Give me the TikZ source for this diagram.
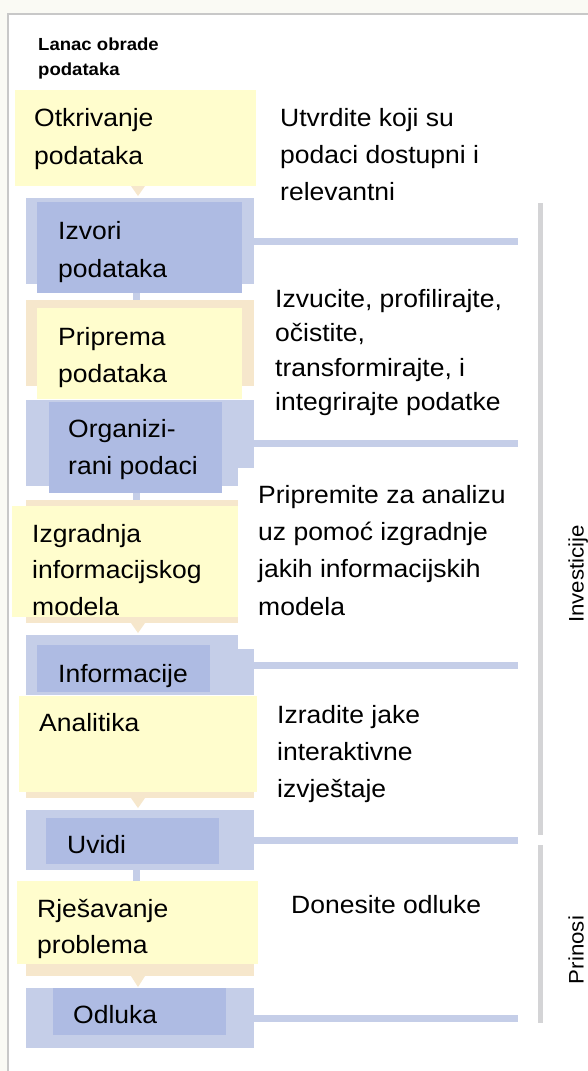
\documentclass[tikz,border=0pt]{standalone}
\usepackage{fontspec}
\setmainfont{Liberation Sans}[FakeStretch=1.06]
\definecolor{yel}{RGB}{255,253,205}
\definecolor{tanc}{RGB}{246,231,204}
\definecolor{bout}{RGB}{197,206,232}
\definecolor{binn}{RGB}{174,187,227}
\definecolor{vgray}{RGB}{212,212,214}
\definecolor{framec}{RGB}{200,200,200}
\definecolor{cream}{RGB}{250,250,244}
\begin{document}
\begin{tikzpicture}[x=1pt,y=-1pt,
  bx/.style={anchor=north west, inner sep=0pt, outer sep=0pt, draw=none},
  ybox/.style={bx, fill=yel},
  tbox/.style={bx, fill=tanc},
  obox/.style={bx, fill=bout},
  ibox/.style={bx, fill=binn},
  wbox/.style={bx, fill=white},
  hline/.style={draw=bout, line width=7pt},
  vconn/.style={draw=bout, line width=7pt},
  gline/.style={draw=vgray, line width=5pt},
  tri/.style={fill=tanc},
  lbl/.style={anchor=base west, inner sep=0pt, align=left, font=\fontsize{25}{37}\selectfont},
  ttl/.style={anchor=base west, inner sep=0pt, align=left, font=\bfseries\fontsize{17.5}{25.5}\selectfont},
  side/.style={anchor=base, inner sep=0pt, rotate=90, font=\fontsize{21}{25}\selectfont}
]
\useasboundingbox (0,0) rectangle (588,1071);
\fill[cream] (0,0) rectangle (588,1071);
\fill[white] (8,14) rectangle (588,1071);
\draw[framec, line width=1.5pt] (8,1071) -- (8,14) -- (588,14);

% boxes
\node[ybox, minimum width=241pt, minimum height=96pt] (y1) at (15,90) {};
\node[obox, minimum width=228pt, minimum height=86pt] (b2o) at (26,198) {};
\node[ibox, minimum width=205pt, minimum height=91pt] (b2i) at (37,202) {};
\node[tbox, minimum width=228pt, minimum height=86pt] (t3o) at (26,300) {};
\node[ybox, minimum width=205pt, minimum height=91pt] (y3) at (37,308) {};
\node[obox, minimum width=228pt, minimum height=86pt] (b4o) at (26,400) {};
\node[ibox, minimum width=173pt, minimum height=91pt] (b4i) at (49,402) {};
\node[tbox, minimum width=228pt, minimum height=123pt] (t5o) at (26,500) {};
\node[ybox, minimum width=226pt, minimum height=111pt] (y5) at (12,506) {};
\node[obox, minimum width=228pt, minimum height=60pt] (b6o) at (26,635) {};
\node[ibox, minimum width=173pt, minimum height=47pt] (b6i) at (37,645) {};
\node[tbox, minimum width=228pt, minimum height=98pt] (t7o) at (26,700) {};
\node[ybox, minimum width=238pt, minimum height=96pt] (y7) at (19,696) {};
\node[obox, minimum width=228pt, minimum height=60pt] (b8o) at (26,810) {};
\node[ibox, minimum width=173pt, minimum height=46pt] (b8i) at (46,818) {};
\node[tbox, minimum width=228pt, minimum height=86pt] (t9o) at (26,890) {};
\node[ybox, minimum width=241pt, minimum height=83pt] (y9) at (17,881) {};
\node[obox, minimum width=228pt, minimum height=60pt] (b10o) at (26,988) {};
\node[ibox, minimum width=173pt, minimum height=47pt] (b10i) at (53,988) {};
\node[wbox, minimum width=280pt, minimum height=181pt] (wb) at (238,468) {};

% connectors
\coordinate (cx) at (136.5,0);
\draw[vconn] (b2i.south -| cx) -- (t3o.north -| cx);
\draw[vconn] (b4i.south -| cx) -- (t5o.north -| cx);
\draw[vconn] (b8o.south -| cx) -- (y9.north -| cx);

% triangles
\coordinate (tx) at (138,0);
\fill[tri] (y1.south -| tx) ++(-7,0) -- ++(14,0) -- ++(-7,10) -- cycle;
\fill[tri] (t5o.south -| tx) ++(-7,0) -- ++(14,0) -- ++(-7,10) -- cycle;
\fill[tri] (t7o.south -| tx) ++(-7,0) -- ++(14,0) -- ++(-7,10) -- cycle;
\fill[tri] (t9o.south -| tx) ++(-7,0) -- ++(14,0) -- ++(-7,11) -- cycle;

% horizontal lines
\coordinate (hx) at (518,0);
\draw[hline] (b2o.east) -- (b2o.east -| hx);
\draw[hline] (b4o.east) -- (b4o.east -| hx);
\draw[hline] (b6o.east) -- (b6o.east -| hx);
\draw[hline] (b8o.east) -- (b8o.east -| hx);
\draw[hline] (b10o.east) -- (b10o.east -| hx);

% vertical gray lines
\coordinate (g1a) at (540,203);
\coordinate (g1b) at (540,835);
\coordinate (g2a) at (540,845);
\coordinate (g2b) at (540,1023);
\draw[gline] (g1a) -- (g1b);
\draw[gline] (g2a) -- (g2b);

% texts (base anchor = last line's baseline)
\node[ttl] (title) at (38,75.5) {Lanac obrade\\podataka};
\node[lbl, font=\fontsize{25}{38}\selectfont] (ty1) at (34,164) {Otkrivanje\\podataka};
\node[lbl, font=\fontsize{25}{38}\selectfont] (tb2) at (58,277) {Izvori\\podataka};
\node[lbl] (ty3) at (58,382) {Priprema\\podataka};
\node[lbl] (tb4) at (68,474) {Organizi-\\rani podaci};
\node[lbl, font=\fontsize{25}{36.5}\selectfont] (ty5) at (32,615) {Izgradnja\\informacijskog\\modela};
\node[lbl] (tb6) at (58,682) {Informacije};
\node[lbl] (ty7) at (39,731) {Analitika};
\node[lbl] (tb8) at (67,853) {Uvidi};
\node[lbl, font=\fontsize{25}{36}\selectfont] (ty9) at (37,953) {Rješavanje\\problema};
\node[lbl] (tb10) at (73,1023) {Odluka};

\node[lbl] (d1) at (280,200) {Utvrdite koji su\\podaci dostupni i\\relevantni};
\node[lbl, font=\fontsize{25}{34.5}\selectfont] (d2) at (275,410.5) {Izvucite, profilirajte,\\očistite,\\transformirajte, i\\integrirajte podatke};
\node[lbl, font=\fontsize{25}{37.3}\selectfont] (d3) at (258,615) {Pripremite za analizu\\uz pomoć izgradnje\\jakih informacijskih\\modela};
\node[lbl] (d4) at (277,797) {Izradite jake\\interaktivne\\izvještaje};
\node[lbl] (d5) at (291,913) {Donesite odluke};

\node[side] (inv) at (583.5,574) {Investicije};
\node[side] (prin) at (583.5,950) {Prinosi};
\end{tikzpicture}
\end{document}
